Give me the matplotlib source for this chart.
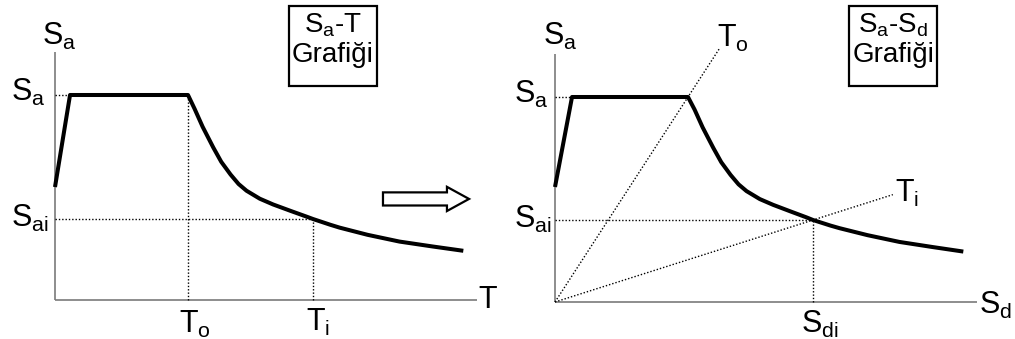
import numpy as np
import matplotlib.pyplot as plt
from matplotlib.patches import Rectangle, Polygon

plt.rcParams['font.family'] = ['Liberation Sans', 'DejaVu Sans']
plt.rcParams['mathtext.fontset'] = 'custom'
plt.rcParams['mathtext.rm'] = 'Liberation Sans'
plt.rcParams['mathtext.it'] = 'Liberation Sans'

# left panel: Sa - T spectrum
T = [0.0, 0.113, 1.0, 1.05, 1.11, 1.19, 1.25, 1.32, 1.38, 1.44, 1.54, 1.64, 1.77, 1.89, 1.94,
     2.07, 2.14, 2.35, 2.59, 2.84, 3.07]
SA_T = [0.551, 1.0, 1.0, 0.932, 0.845, 0.744, 0.674, 0.612, 0.566, 0.533, 0.494, 0.466, 0.435,
        0.407, 0.395, 0.367, 0.353, 0.318, 0.285, 0.261, 0.240]
T0 = 1.0
TI = 1.94
SA_MAX = 1.0
SA_I = 0.395

# right panel: Sa - Sd spectrum
SD = [0.0, 0.128, 1.0, 1.05, 1.11, 1.19, 1.25, 1.32, 1.38, 1.44, 1.54, 1.64, 1.77, 1.89, 1.94,
      2.07, 2.14, 2.35, 2.59, 2.84, 3.07]
SA_SD = [0.561, 1.0, 1.0, 0.938, 0.852, 0.752, 0.682, 0.620, 0.574, 0.541, 0.502, 0.474, 0.442,
         0.413, 0.400, 0.373, 0.360, 0.326, 0.293, 0.268, 0.246]
SD_T0 = 1.0
SD_I = 1.94
SA_I_R = 0.40
T0_RAY_END = 1.24
TI_RAY_END = 2.54

AX_END = 3.17
AX_TOP = 1.21

W, H = 1015, 339
fig = plt.figure(figsize=(W / 100, H / 100), dpi=100)

# one axes per panel, limits chosen so 1 unit ~ 133 px across, 205 px up
axL = fig.add_axes([0, 0, 500 / W, 1])
axL.set_xlim(-55 / 133, 445 / 133)
axL.set_ylim(-39 / 205, 300 / 205)
axR = fig.add_axes([500 / W, 0, 515 / W, 1])
axR.set_xlim(-55 / 133, 460 / 133)
axR.set_ylim(-37 / 205, 302 / 205)
for ax in (axL, axR):
    ax.axis('off')
    ax.plot([0, 0], [0, AX_TOP], color='#7a7a7a', lw=1.2, solid_capstyle='butt')
    ax.plot([0, AX_END], [0, 0], color='#7a7a7a', lw=1.2, solid_capstyle='butt')

dot = dict(color='black', lw=1.0, linestyle=(0, (1, 1.4)))
curve = dict(color='black', lw=2.9, solid_joinstyle='round', solid_capstyle='butt')
big = 22
box_fs = 20

# ---- left
axL.plot([0, T[1]], [SA_MAX, SA_MAX], **dot)
axL.plot([T0, T0], [0, SA_MAX], **dot)
axL.plot([0, TI], [SA_I, SA_I], **dot)
axL.plot([TI, TI], [0, SA_I], **dot)
axL.plot(T, SA_T, **curve)

axL.text(-0.10, 1.245, r'S$_\mathregular{a}$', fontsize=big, ha='left', va='baseline')
axL.text(-0.33, SA_MAX - 0.03, r'S$_\mathregular{a}$', fontsize=big, ha='left', va='baseline')
axL.text(-0.33, SA_I - 0.04, r'S$_\mathregular{ai}$', fontsize=big, ha='left', va='baseline')
axL.text(T0 + 0.05, -0.16, r'T$_\mathregular{o}$', fontsize=big, ha='center', va='baseline')
axL.text(TI + 0.04, -0.15, r'T$_\mathregular{i}$', fontsize=big, ha='center', va='baseline')
axL.text(AX_END + 0.01, -0.04, 'T', fontsize=big, ha='left', va='baseline')

axL.add_patch(Rectangle((1.759, 1.044), 0.662, 0.39, fill=False, lw=1.6, ec='black'))
axL.text(2.09, 1.305, r'S$_\mathregular{a}$-T', fontsize=box_fs, ha='center', va='baseline')
axL.text(2.09, 1.16, 'Grafiği', fontsize=box_fs, ha='center', va='baseline')

# hollow arrow between panels
x0, xb, xt, yc = 2.466, 2.947, 3.113, 0.493
sh, hh = 0.032, 0.059
axL.add_patch(Polygon([(x0, yc - sh), (xb, yc - sh), (xb, yc - hh), (xt, yc),
                       (xb, yc + hh), (xb, yc + sh), (x0, yc + sh)],
                      closed=True, fill=False, ec='black', lw=1.6, joinstyle='miter'))

# ---- right
axR.plot([0, SD[1]], [SA_MAX, SA_MAX], **dot)
axR.plot([0, SD_I], [SA_I_R, SA_I_R], **dot)
axR.plot([SD_I, SD_I], [0, SA_I_R], **dot)
axR.plot([0, T0_RAY_END], [0, T0_RAY_END * SA_MAX / SD_T0], **dot)
axR.plot([0, TI_RAY_END], [0, TI_RAY_END * SA_I_R / SD_I], **dot)
axR.plot(SD, SA_SD, **curve)

axR.text(-0.09, 1.255, r'S$_\mathregular{a}$', fontsize=big, ha='left', va='baseline')
axR.text(T0_RAY_END - 0.02, 1.245, r'T$_\mathregular{o}$', fontsize=big, ha='left', va='baseline')
axR.text(-0.31, SA_MAX - 0.03, r'S$_\mathregular{a}$', fontsize=big, ha='left', va='baseline')
axR.text(-0.31, SA_I_R - 0.04, r'S$_\mathregular{ai}$', fontsize=big, ha='left', va='baseline')
axR.text(TI_RAY_END + 0.02, 0.49, r'T$_\mathregular{i}$', fontsize=big, ha='left', va='baseline')
axR.text(SD_I - 0.09, -0.15, r'S$_\mathregular{di}$', fontsize=big, ha='left', va='baseline')
axR.text(AX_END + 0.02, -0.06, r'S$_\mathregular{d}$', fontsize=big, ha='left', va='baseline')

axR.add_patch(Rectangle((2.211, 1.054), 0.662, 0.39, fill=False, lw=1.6, ec='black'))
axR.text(2.542, 1.315, r'S$_\mathregular{a}$-S$_\mathregular{d}$', fontsize=box_fs, ha='center', va='baseline')
axR.text(2.542, 1.17, 'Grafiği', fontsize=box_fs, ha='center', va='baseline')

fig.savefig('out.png', dpi=100)
